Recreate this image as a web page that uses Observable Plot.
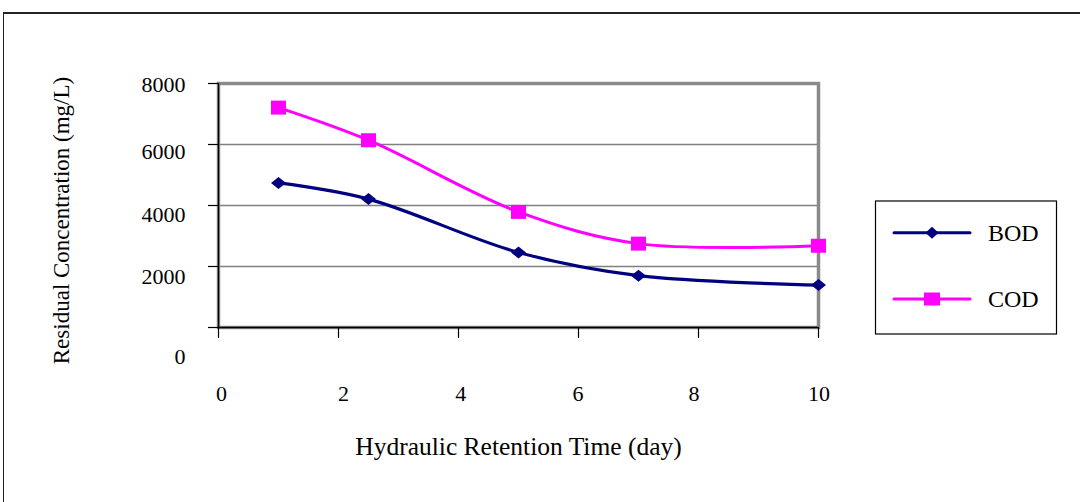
<!DOCTYPE html>
<html>
<head>
<meta charset="utf-8">
<script src="https://cdn.jsdelivr.net/npm/d3@7"></script>
<script src="https://cdn.jsdelivr.net/npm/@observablehq/plot@0.6"></script>
<style>
  html, body { margin: 0; padding: 0; background: #fff; overflow: hidden; }
  #wrap { position: relative; width: 1080px; height: 502px; }
  #outer { position: absolute; left: 3px; top: 12px; width: 2000px; height: 2000px;
           border-top: 2px solid #222; border-left: 1.5px solid #222; }
  #chart { position: absolute; left: 0; top: 0; }
</style>
</head>
<body>
<div id="wrap"><div id="outer"></div><div id="chart"></div></div>
<script>
// ---- data ----
const hrt = [1, 2.5, 5, 7, 10];
const bodValues = [4740, 4210, 2460, 1700, 1390];
const codValues = [7210, 6140, 3790, 2750, 2680];
const seriesNames = ["BOD", "COD"];
const xTicks = [0, 2, 4, 6, 8, 10];
const yTicks = [0, 2000, 4000, 6000, 8000];
const yGrid = [2000, 4000, 6000];

const bod = hrt.map((x, i) => ({x, y: bodValues[i]}));
const cod = hrt.map((x, i) => ({x, y: codValues[i]}));

// ---- styles ----
const navy = "#000080", magenta = "#FF00FF";
const font = "'Liberation Serif', 'Times New Roman', serif";
// Excel-like irregular tick-label offsets
const yLabelDy = [29, 10, 9, 7.5, 1.3];
const xLabelDx = [3, 5, 2.3, -0.4, -4.4, 0.6];

const diamond = {draw(ctx) { ctx.moveTo(-7.5, 0); ctx.lineTo(0, -6); ctx.lineTo(7.5, 0); ctx.lineTo(0, 6); ctx.closePath(); }};
const square = {draw(ctx) { ctx.rect(-7.5, -7, 15, 14); }};
const diamondL = {draw(ctx) { ctx.moveTo(-6.5, 0); ctx.lineTo(0, -6); ctx.lineTo(6.5, 0); ctx.lineTo(0, 6); ctx.closePath(); }};
const squareL = {draw(ctx) { ctx.rect(-8, -6.5, 16, 13); }};

const chart = Plot.plot({
  width: 1080,
  height: 502,
  marginLeft: 218,
  marginRight: 262,
  marginTop: 83,
  marginBottom: 175,
  style: {fontFamily: font, background: "transparent", fontSize: "22px", color: "#000"},
  x: {domain: [0, 10], label: null},
  y: {domain: [0, 8000], label: null},
  marks: [
    Plot.gridY(yGrid, {stroke: "#808080", strokeOpacity: 1, strokeWidth: 1.6}),
    Plot.frame({stroke: "#8a8a8a", strokeWidth: 3.5}),
    Plot.ruleX([0], {stroke: "#000", strokeWidth: 1.3}),
    Plot.ruleY([0], {stroke: "#000", strokeWidth: 1.3}),
    Plot.axisY(yTicks, {tickSize: 10, tickFormat: () => "", stroke: "#000", strokeWidth: 1.2}),
    ...yTicks.map((v, i) => Plot.axisY([v], {tickSize: 0, tickPadding: 33, dy: yLabelDy[i], fontSize: 22, fill: "#000", tickFormat: d3.format("d")})),
    Plot.axisX(xTicks, {tickSize: 11, tickFormat: () => "", stroke: "#000", strokeWidth: 1.2}),
    ...xTicks.map((v, i) => Plot.axisX([v], {tickSize: 0, tickPadding: 58, dx: xLabelDx[i], fontSize: 22, fill: "#000", tickFormat: d3.format("d")})),
    Plot.line(cod, {x: "x", y: "y", curve: "catmull-rom", stroke: magenta, strokeWidth: 3}),
    Plot.line(bod, {x: "x", y: "y", curve: "catmull-rom", stroke: navy, strokeWidth: 3.2}),
    Plot.dot(cod, {x: "x", y: "y", symbol: square, fill: magenta, stroke: "none", r: 8}),
    Plot.dot(bod, {x: "x", y: "y", symbol: diamond, fill: navy, stroke: "none", r: 8}),
    Plot.text(["Hydraulic Retention Time (day)"], {frameAnchor: "bottom", dy: 127, fontSize: 25.5, fill: "#000", text: d => d}),
    Plot.text(["Residual Concentration (mg/L)"], {frameAnchor: "left", textAnchor: "middle", dx: -157, dy: 15, rotate: -90, fontSize: 23, fill: "#000", text: d => d})
  ]
});

// ---- legend ----
const svg = d3.select(chart);
const lg = svg.append("g").attr("font-family", font).attr("text-anchor", "start");
lg.append("rect").attr("x", 875.5).attr("y", 201).attr("width", 181).attr("height", 133)
  .attr("fill", "#fff").attr("stroke", "#000").attr("stroke-width", 1.2);
const items = [
  {name: seriesNames[0], color: navy, sym: diamondL, cy: 232.7},
  {name: seriesNames[1], color: magenta, sym: squareL, cy: 299}
];
items.forEach(it => {
  lg.append("line").attr("x1", 894).attr("x2", 970).attr("y1", it.cy).attr("y2", it.cy)
    .attr("stroke", it.color).attr("stroke-width", 3).attr("stroke-linecap", "round");
  const p = d3.path(); it.sym.draw(p);
  lg.append("path").attr("d", p.toString()).attr("transform", `translate(932,${it.cy})`).attr("fill", it.color);
  lg.append("text").attr("x", 988).attr("y", it.cy).attr("dy", "0.35em").attr("font-size", 24)
    .attr("text-anchor", "start").attr("fill", "#000").text(it.name);
});

document.getElementById("chart").appendChild(chart);
</script>
</body>
</html>
